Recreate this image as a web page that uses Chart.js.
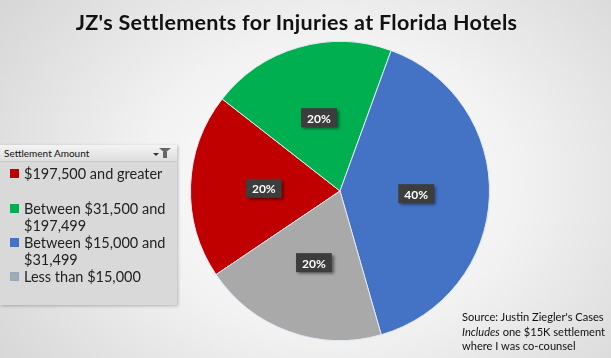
<!DOCTYPE html>
<html>
<head>
<meta charset="utf-8">
<script src="https://cdn.jsdelivr.net/npm/chart.js@4.4.0/dist/chart.umd.min.js"></script>
<style>
  body { margin:0; width:611px; height:358px; overflow:hidden; font-family: Lato, "Open Sans", sans-serif; }
  #wrap { position:relative; width:611px; height:358px;
    background: radial-gradient(ellipse 420px 330px at 330px 185px, #ffffff 0%, #f2f2f2 45%, #d4d4d4 100%); }
  #title { position:absolute; top:9px; left:-9px; width:611px; text-align:center; font-weight:bold; font-size:21.5px; letter-spacing:0.3px; color:#111; }
  #legend { position:absolute; left:0; top:145px; width:177px; height:160px; background:#d9d9d9;
    box-shadow: 1px 1px 3px rgba(0,0,0,0.25); }
  #legend .head { height:16px; background:linear-gradient(#f4f4f4,#dedede); font-size:10px; line-height:16px; padding-left:4px; color:#111; position:relative; border-bottom:1px solid #c8c8c8; }
  .arrow { position:absolute; right:18px; top:8px; width:0; height:0; border-left:3px solid transparent; border-right:3px solid transparent; border-top:3px solid #333; }
  .funnel { position:absolute; right:6px; top:3px; width:0; height:0; border-left:6px solid transparent; border-right:6px solid transparent; border-top:5px solid #666; }
  .stem { position:absolute; right:10px; top:7px; width:4px; height:6px; background:#666; }
  #legend .item { position:relative; padding-left:24px; font-size:14.5px; line-height:17px; color:#222; }
  #legend .sw { position:absolute; left:10px; top:4px; width:9px; height:9px; }
  #src { position:absolute; left:462px; top:310px; font-size:11.1px; line-height:14.5px; color:#111; white-space:nowrap; }
  canvas { position:absolute; left:0; top:0; }
</style>
</head>
<body>
<div id="wrap">
  <canvas id="myChart" width="611" height="358"></canvas>
  <div id="title">JZ's Settlements for Injuries at Florida Hotels</div>
  <div id="legend"><div class="head">Settlement Amount<span class="arrow"></span><span class="funnel"></span><span class="stem"></span></div><div id="items"></div></div>
  <div id="src">Source: Justin Ziegler's Cases<br><i>Includes</i> one $15K settlement<br>where I was co-counsel</div>
</div>
<script>
const categories = ['$197,500 and greater', 'Between $31,500 and $197,499', 'Between $15,000 and $31,499', 'Less than $15,000'];
const shares = [20, 20, 40, 20];
const colors = ['#c00000', '#00b050', '#4472c4', '#a9a9a9'];
const legendGaps = [0, 18, 0, 0];

// legend built from the arrays
const items = document.getElementById('items');
items.style.paddingTop = '3px';
categories.forEach((c, i) => {
  const d = document.createElement('div');
  d.className = 'item';
  d.style.marginTop = legendGaps[i] + 'px';
  d.innerHTML = '<span class="sw" style="background:' + colors[i] + (i == 3 ? ';border:1px solid #8ea9c8;width:7px;height:7px' : '') + '"></span>' + c;
  items.appendChild(d);
});

const labelBoxes = {
  id: 'labelBoxes',
  afterDatasetsDraw(chart) {
    const ctx = chart.ctx;
    const meta = chart.getDatasetMeta(0);
    meta.data.forEach((arc, i) => {
      const mid = (arc.startAngle + arc.endAngle) / 2;
      const r = arc.outerRadius * 0.51;
      const x = arc.x + Math.cos(mid) * r;
      const y = arc.y + Math.sin(mid) * r;
      const txt = shares[i] + '%';
      ctx.save();
      ctx.font = 'bold 12px Lato, sans-serif';
      const w = ctx.measureText(txt).width + 12;
      const h = 19;
      ctx.shadowColor = 'rgba(0,0,0,0.5)';
      ctx.shadowBlur = 3;
      ctx.shadowOffsetX = 2;
      ctx.shadowOffsetY = 2;
      ctx.fillStyle = '#3d3d3d';
      ctx.fillRect(x - w / 2, y - h / 2, w, h);
      ctx.shadowColor = 'transparent';
      ctx.fillStyle = '#ffffff';
      ctx.textAlign = 'center';
      ctx.textBaseline = 'middle';
      ctx.fillText(txt, x, y + 1);
      ctx.restore();
    });
  }
};

new Chart(document.getElementById('myChart'), {
  type: 'pie',
  data: {
    labels: categories,
    datasets: [{
      data: shares,
      backgroundColor: colors,
      borderColor: '#dfe8f3',
      borderWidth: 1
    }]
  },
  options: {
    responsive: false,
    animation: false,
    rotation: 236,
    layout: { padding: { left: 190, right: 121, top: 41, bottom: 17 } },
    plugins: { legend: { display: false }, tooltip: { enabled: false } }
  },
  plugins: [labelBoxes]
});
</script>
</body>
</html>
